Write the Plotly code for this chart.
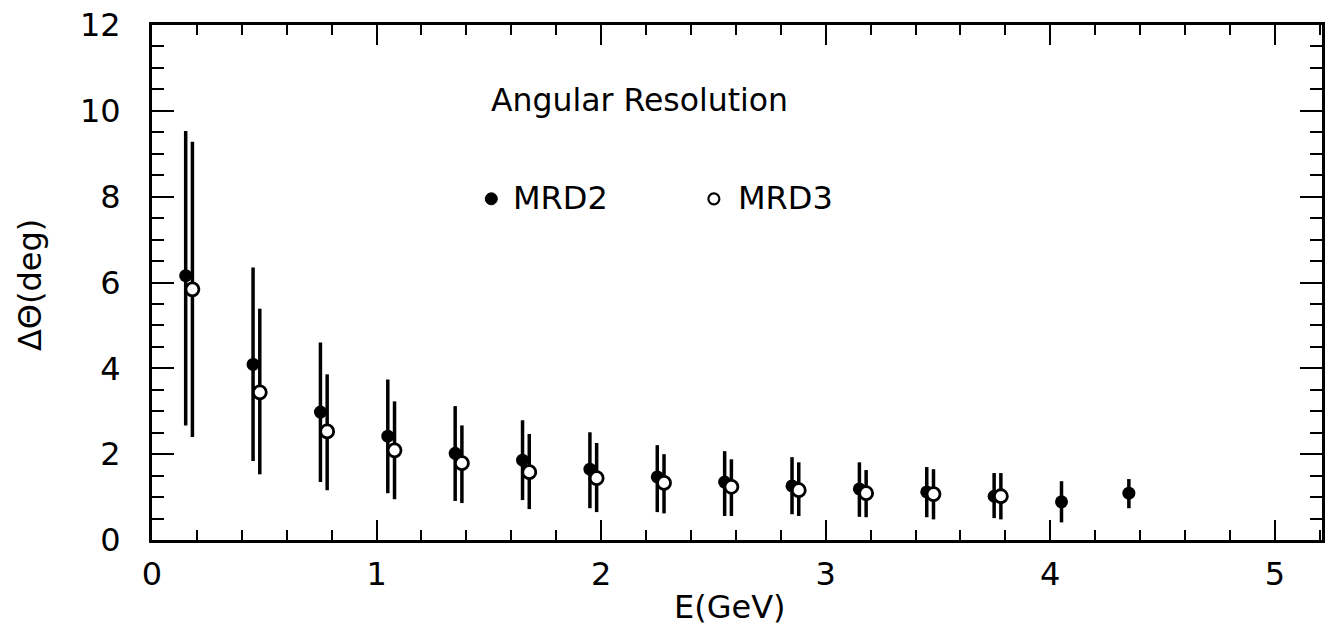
import plotly.graph_objects as go

# MRD2 (filled circles)
E_mrd2 = [0.15, 0.45, 0.75, 1.05, 1.35, 1.65, 1.95, 2.25, 2.55, 2.85, 3.15, 3.45, 3.75, 4.05, 4.35]
res_mrd2 = [6.16, 4.09, 2.98, 2.42, 2.02, 1.86, 1.65, 1.47, 1.35, 1.26, 1.19, 1.12, 1.02, 0.89, 1.09]
hi_mrd2 = [9.53, 6.35, 4.60, 3.74, 3.12, 2.79, 2.51, 2.21, 2.07, 1.93, 1.81, 1.70, 1.56, 1.37, 1.42]
lo_mrd2 = [2.67, 1.84, 1.35, 1.09, 0.91, 0.93, 0.74, 0.65, 0.56, 0.60, 0.54, 0.53, 0.51, 0.41, 0.74]

# MRD3 (open circles)
E_mrd3 = [0.18, 0.48, 0.78, 1.08, 1.38, 1.68, 1.98, 2.28, 2.58, 2.88, 3.18, 3.48, 3.78]
res_mrd3 = [5.84, 3.44, 2.53, 2.09, 1.79, 1.58, 1.44, 1.33, 1.24, 1.16, 1.09, 1.07, 1.02]
hi_mrd3 = [9.28, 5.39, 3.86, 3.23, 2.67, 2.47, 2.26, 2.00, 1.88, 1.81, 1.63, 1.65, 1.56]
lo_mrd3 = [2.40, 1.53, 1.16, 0.95, 0.86, 0.72, 0.65, 0.62, 0.56, 0.56, 0.53, 0.48, 0.48]

x_ticks = [0, 1, 2, 3, 4, 5]
y_ticks = [0, 2, 4, 6, 8, 10, 12]

FONT = "DejaVu Sans"

fig = go.Figure()

fig.add_trace(go.Scatter(
    x=E_mrd2, y=res_mrd2, mode="markers", name="MRD2",
    marker=dict(symbol="circle", size=13, color="black"),
    error_y=dict(type="data", symmetric=False,
                 array=[h - v for h, v in zip(hi_mrd2, res_mrd2)],
                 arrayminus=[v - l for v, l in zip(res_mrd2, lo_mrd2)],
                 color="black", thickness=3.5, width=0),
    showlegend=False,
))
fig.add_trace(go.Scatter(
    x=E_mrd3, y=res_mrd3, mode="markers", name="MRD3",
    marker=dict(symbol="circle", size=13, color="white", line=dict(color="black", width=2.8)),
    error_y=dict(type="data", symmetric=False,
                 array=[h - v for h, v in zip(hi_mrd3, res_mrd3)],
                 arrayminus=[v - l for v, l in zip(res_mrd3, lo_mrd3)],
                 color="black", thickness=3.5, width=0),
    showlegend=False,
))

axis_common = dict(
    showline=True, linecolor="black", linewidth=3, mirror="ticks",
    ticks="inside", tickcolor="black", tickwidth=2,
    showgrid=False, zeroline=False,
    tickfont=dict(family=FONT, size=32, color="black"),
)

fig.update_xaxes(
    range=[0, 5.21], tickvals=x_ticks, ticktext=[str(v) for v in x_ticks],
    ticklen=20, ticklabelstandoff=4,
    minor=dict(dtick=0.2, tick0=0, ticks="inside", ticklen=10, tickwidth=2, tickcolor="black", showgrid=False),
    **axis_common,
)
fig.update_yaxes(
    range=[0, 12], tickvals=y_ticks, ticktext=[str(v) for v in y_ticks],
    ticklen=22, ticklabelstandoff=22,
    minor=dict(dtick=0.5, tick0=0, ticks="inside", ticklen=12, tickwidth=2, tickcolor="black", showgrid=False),
    **axis_common,
)

annotations = [
    dict(text="Angular Resolution", xref="x", yref="y", x=1.50, y=10.26,
         xanchor="left", yanchor="middle", showarrow=False,
         font=dict(family=FONT, size=31.5, color="black")),
    dict(text="MRD2", xref="x", yref="y", x=1.60, y=7.97,
         xanchor="left", yanchor="middle", showarrow=False,
         font=dict(family=FONT, size=32, color="black")),
    dict(text="MRD3", xref="x", yref="y", x=2.60, y=7.97,
         xanchor="left", yanchor="middle", showarrow=False,
         font=dict(family=FONT, size=32, color="black")),
    dict(text="E(GeV)", xref="paper", yref="paper", x=0.494, y=0, yshift=-67,
         xanchor="center", yanchor="middle", showarrow=False,
         font=dict(family=FONT, size=32, color="black")),
    dict(text="ΔΘ(deg)", xref="paper", yref="paper", x=0, xshift=-122, y=0.495,
         xanchor="center", yanchor="middle", textangle=-90, showarrow=False,
         font=dict(family=FONT, size=32, color="black")),
]

shapes = [
    dict(type="circle", xref="x", yref="y", xsizemode="pixel", ysizemode="pixel",
         xanchor=1.511, yanchor=7.95, x0=-6, x1=6, y0=-6, y1=6,
         fillcolor="black", line=dict(color="black", width=1)),
    dict(type="circle", xref="x", yref="y", xsizemode="pixel", ysizemode="pixel",
         xanchor=2.502, yanchor=7.95, x0=-5.5, x1=5.5, y0=-5.5, y1=5.5,
         fillcolor="white", line=dict(color="black", width=2.2)),
]

fig.update_layout(
    width=1327, height=638,
    margin=dict(l=152, r=2, t=25, b=98),
    paper_bgcolor="white", plot_bgcolor="white",
    annotations=annotations, shapes=shapes,
    font=dict(family=FONT, color="black"),
)

fig.write_html("out.html")
